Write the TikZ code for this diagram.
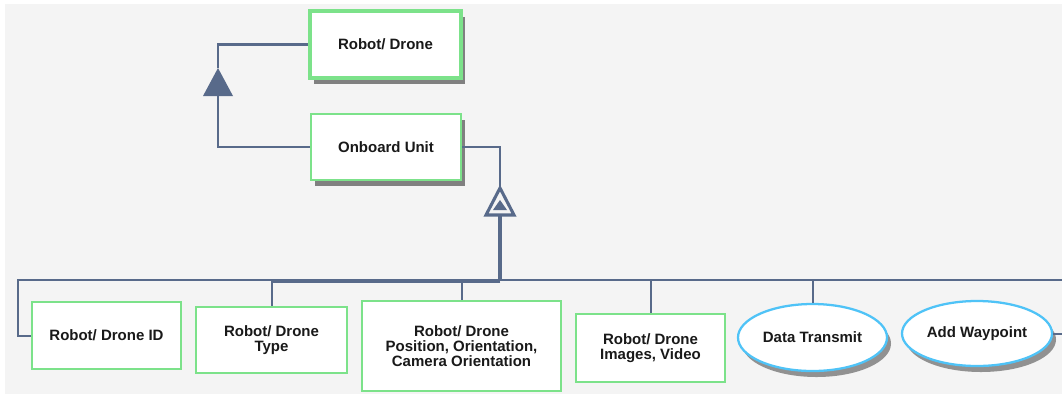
\documentclass[tikz,border=0pt]{standalone}
\usepackage{fontspec}
\setmainfont{Liberation Sans}
\usetikzlibrary{shapes.geometric,shadows}

\definecolor{bgpanel}{RGB}{244,244,244}
\definecolor{linkcol}{RGB}{88,106,138}
\definecolor{boxgreen}{RGB}{124,226,138}
\definecolor{ovalblue}{RGB}{79,195,247}
\definecolor{shade}{RGB}{128,128,128}
\definecolor{txt}{RGB}{25,25,25}

\tikzset{
  x=0.75pt, y=-0.75pt,
  label font/.style={font=\fontsize{11.25}{11.25}\selectfont\bfseries, text=txt, align=center},
  classbox/.style={label font, draw=boxgreen, line width=1.7pt, fill=white,
    rectangle, inner sep=2pt},
  boxshadow/.style={drop shadow={shadow xshift=3pt, shadow yshift=-4.5pt,
    fill=shade, opacity=1}},
  usecase/.style={label font, draw=ovalblue, line width=1.7pt, fill=white,
    ellipse, inner sep=0pt,
    drop shadow={shadow xshift=3pt, shadow yshift=-4.5pt, fill=shade, opacity=0.85}},
  conn/.style={draw=linkcol, line width=1.7pt},
  busline/.style={draw=linkcol, line width=1.5pt},
  trunk/.style={draw=linkcol, line width=2.4pt},
}

\begin{document}
\begin{tikzpicture}
\useasboundingbox (0,0) rectangle (1062,394);
\clip (0,0) rectangle (1062,394);
\fill[bgpanel] (5,4) rectangle (1062,394);

% upper classes
\node[classbox, boxshadow, line width=2.6pt, minimum width=151*0.75pt, minimum height=67*0.75pt]
  (robot) at (385.5,44.5) {Robot/ Drone};
\node[classbox, boxshadow, minimum width=150*0.75pt, minimum height=66*0.75pt]
  (onboard) at (386,147) {Onboard Unit};

% lower classes and use cases
\node[classbox, minimum width=149*0.75pt, minimum height=67*0.75pt]
  (id) at (106.5,335.5) {Robot/ Drone ID};
\node[classbox, minimum width=151*0.75pt, minimum height=66*0.75pt]
  (type) at (271.5,340) {Robot/ Drone\\Type};
\node[classbox, minimum width=199*0.75pt, minimum height=90*0.75pt]
  (pos) at (461.5,346) {Robot/ Drone\\Position, Orientation,\\Camera Orientation};
\node[classbox, minimum width=149*0.75pt, minimum height=68*0.75pt]
  (img) at (650.5,348) {Robot/ Drone\\Images, Video};
\node[usecase, minimum width=149*0.75pt, minimum height=67*0.75pt]
  (data) at (812.5,337.5) {Data Transmit};
\node[usecase, minimum width=150*0.75pt, minimum height=65*0.75pt]
  (wp) at (977,333.5) {Add Waypoint};

% generalization: Onboard Unit -> Robot/ Drone (filled head)
\coordinate (g1base) at (218,96);
\coordinate (g1apex) at (218,68);
\draw[conn] (onboard.west) -| (g1base);
\fill[linkcol] (g1base) ++(-15,0) -- (g1apex) -- ++(15,28) -- cycle;
\draw[conn] (g1apex) |- (robot.west);

% generalization: children -> Onboard Unit (hollow head)
\coordinate (g2apex) at (500,188);
\coordinate (g2base) at (500,215);
\draw[conn] (onboard.east) -| (g2apex);
\draw[linkcol, line width=2.3pt, fill=bgpanel, line join=miter]
  (g2base) ++(-14,0) -- (g2apex) -- ++(14,27) -- cycle;
\fill[linkcol] (500,200) -- (507,210) -- (493,210) -- cycle;

% bus to the children
\coordinate (bus) at (500,280);
\coordinate (busB) at (500,282);
\coordinate (busL) at (18,280);
\coordinate (busR) at (1075,280);
\draw[trunk] (g2base) -- (bus);
\draw[busline] (bus) -- (busL) |- (id.west);
\draw[busline] (busB) -| (type.north);
\draw[busline] (busB) -| (pos.north);
\draw[busline] (bus) -| (img.north);
\draw[busline] (bus) -| (data.north);
\draw[busline] (bus) -- (busR) |- (wp.east);
\end{tikzpicture}
\end{document}
